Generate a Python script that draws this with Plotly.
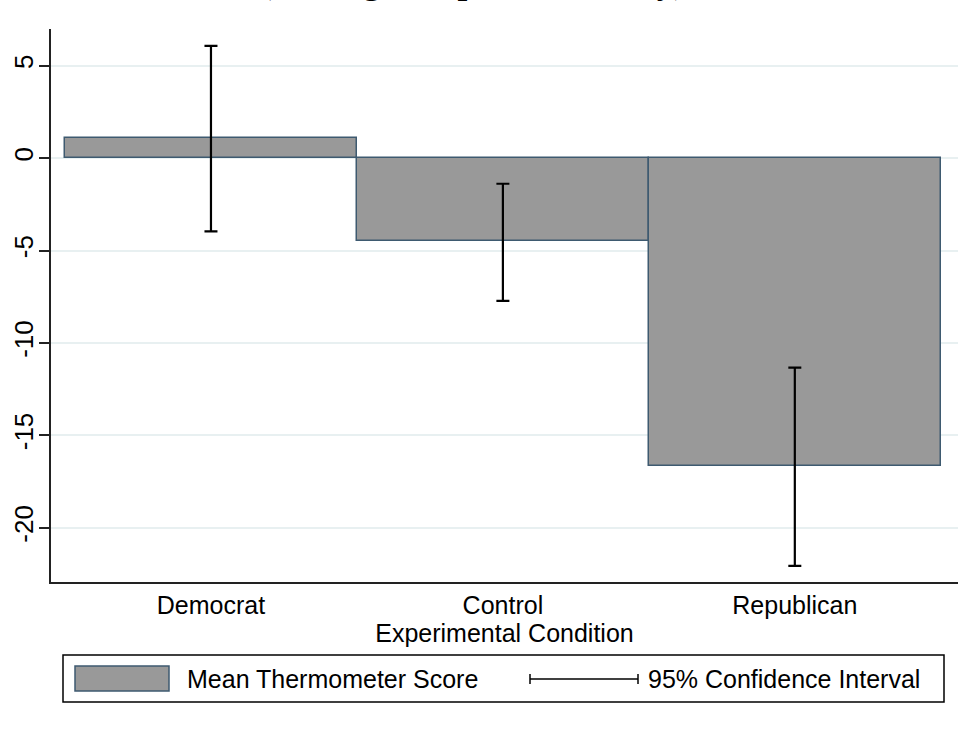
import plotly.graph_objects as go

# ---- data ----
conditions = ["Democrat", "Control", "Republican"]
mean_scores = [1.11, -4.51, -16.65]
ci_upper = [6.07, -1.39, -11.33]
ci_lower = [-3.97, -7.72, -22.06]
y_ticks = [5, 0, -5, -10, -15, -20]

err_plus = [u - m for u, m in zip(ci_upper, mean_scores)]
err_minus = [m - l for m, l in zip(mean_scores, ci_lower)]

FONT = "Liberation Sans, Arial, Helvetica, sans-serif"

fig = go.Figure()
fig.add_trace(go.Bar(
    x=conditions, y=mean_scores,
    marker=dict(color="#999999", line=dict(color="#3e5a70", width=1.5)),
    error_y=dict(type="data", symmetric=False, array=err_plus, arrayminus=err_minus,
                 color="#000000", thickness=2.2, width=6.5),
    showlegend=False,
))

# pixel helpers for plot geometry (plot area 51..958 x, 29..582 y)
L, R, T, B = 51, 958, 29.3, 582
def px(x):
    return (x - L) / (R - L)
def py(y):
    return (B - y) / (B - T)

shapes = []
annotations = []
# legend box
shapes.append(dict(type="rect", xref="paper", yref="paper",
                   x0=px(63), x1=px(944), y0=py(702), y1=py(655),
                   line=dict(color="#000000", width=1.5), fillcolor="white"))
# bar swatch
shapes.append(dict(type="rect", xref="paper", yref="paper",
                   x0=px(75), x1=px(169), y0=py(691), y1=py(666),
                   line=dict(color="#3e5a70", width=1.5), fillcolor="#999999"))
# CI symbol
cy = 679
shapes.append(dict(type="line", xref="paper", yref="paper",
                   x0=px(530), x1=px(638), y0=py(cy), y1=py(cy),
                   line=dict(color="#000000", width=1.5)))
for xx in (530, 638):
    shapes.append(dict(type="line", xref="paper", yref="paper",
                       x0=px(xx), x1=px(xx), y0=py(cy - 5), y1=py(cy + 5),
                       line=dict(color="#000000", width=1.5)))
annotations.append(dict(text="Mean Thermometer Score", xref="paper", yref="paper",
                        x=px(185), y=py(cy), xanchor="left", yanchor="middle",
                        showarrow=False, font=dict(family=FONT, size=25, color="#000000")))
annotations.append(dict(text="95% Confidence Interval", xref="paper", yref="paper",
                        x=px(646), y=py(cy), xanchor="left", yanchor="middle",
                        showarrow=False, font=dict(family=FONT, size=25, color="#000000")))
# title (cropped at the top edge in the reference)
annotations.append(dict(text="<b>(Among Independents Only)</b>", xref="paper", yref="paper",
                        x=px(473), y=py(3), xanchor="center", yanchor="bottom",
                        showarrow=False,
                        font=dict(family="Liberation Serif, Times New Roman, serif", size=35,
                                  color="#000000")))

fig.update_layout(
    width=974, height=733,
    margin=dict(l=L, r=974 - R, t=T, b=733 - B),
    paper_bgcolor="white", plot_bgcolor="white",
    bargap=0,
    shapes=shapes, annotations=annotations,
    font=dict(family=FONT, color="#000000"),
    xaxis=dict(
        range=[-0.548, 2.559], showline=True, linecolor="#222222", linewidth=1.5,
        ticks="", showgrid=False, tickfont=dict(size=25, family=FONT), automargin=False,
        title=dict(text="Experimental Condition", font=dict(size=25, family=FONT), standoff=2),
    ),
    yaxis=dict(
        range=[-22.93, 6.98], tickvals=y_ticks, ticktext=[str(v) for v in y_ticks],
        tickangle=-90, showline=True, linecolor="#222222", linewidth=1.5,
        ticks="outside", ticklen=10, tickwidth=1.5, tickcolor="#222222",
        showgrid=True, gridcolor="#e8f0f1", gridwidth=1.5, zeroline=False,
        tickfont=dict(size=26, family=FONT), automargin=False, ticklabelstandoff=-4,
    ),
)

fig.write_html("out.html")
